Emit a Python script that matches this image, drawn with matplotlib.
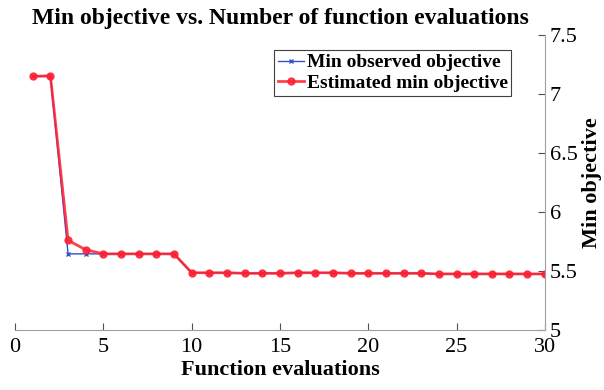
import matplotlib
matplotlib.use("Agg")
import matplotlib.pyplot as plt

# data
evals = list(range(1, 31))
min_observed = [7.15, 7.15, 5.645, 5.645, 5.645, 5.645, 5.645, 5.645, 5.645,
                5.485, 5.485, 5.485, 5.48, 5.48, 5.48, 5.485, 5.485, 5.485, 5.48, 5.48,
                5.48, 5.48, 5.48, 5.475, 5.475, 5.475, 5.475, 5.475, 5.475, 5.475]
est_min = [7.15, 7.155, 5.76, 5.68, 5.645, 5.645, 5.645, 5.645, 5.645,
           5.485, 5.485, 5.485, 5.48, 5.48, 5.48, 5.485, 5.485, 5.485, 5.48, 5.48,
           5.48, 5.48, 5.48, 5.475, 5.475, 5.475, 5.475, 5.475, 5.475, 5.475]

plt.rcParams['font.family'] = ['Liberation Serif', 'DejaVu Serif']

fig = plt.figure(figsize=(6.04, 3.9), dpi=100)
ax = fig.add_axes([0.025, 0.154, 0.877, 0.756])

ax.plot(evals, min_observed, color='#3050c8', lw=1, marker='x', ms=3,
        label='Min observed objective')
ax.plot(evals, est_min, color='#ff2030', lw=2, marker='o', ms=5, alpha=0.85,
        label='Estimated min objective')

ax.set_xlim(0, 30)
ax.set_ylim(5, 7.5)
ax.set_xticks([0, 5, 10, 15, 20, 25, 30])
ax.set_yticks([5, 5.5, 6, 6.5, 7, 7.5])
ax.set_yticklabels(['5', '5.5', '6', '6.5', '7', '7.5'])

ax.yaxis.tick_right()
ax.yaxis.set_label_position('right')
ax.spines['top'].set_visible(False)
ax.spines['left'].set_visible(False)
for s in ['bottom', 'right']:
    ax.spines[s].set_color('#a0a0a0')
ax.tick_params(direction='in', length=5, color='#505050', labelsize=16,
               labelcolor='black')
ax.tick_params(axis='x', pad=6)

ax.set_xlabel('Function evaluations', fontsize=16, fontweight='bold', labelpad=2)
ax.set_ylabel('Min objective', fontsize=16, fontweight='bold', labelpad=3)
ax.set_title('Min objective vs. Number of function evaluations', fontsize=17,
             fontweight='bold', pad=8)

leg = ax.legend(loc='upper right', bbox_to_anchor=(0.937, 0.95),
                prop={'size': 14, 'weight': 'bold'}, fancybox=False,
                framealpha=1, edgecolor='#404040', handlelength=1.3,
                borderpad=0.2, labelspacing=0.15, handletextpad=0.15,
                borderaxespad=0)
leg.get_frame().set_linewidth(0.8)

fig.savefig('out.png', dpi=100)
